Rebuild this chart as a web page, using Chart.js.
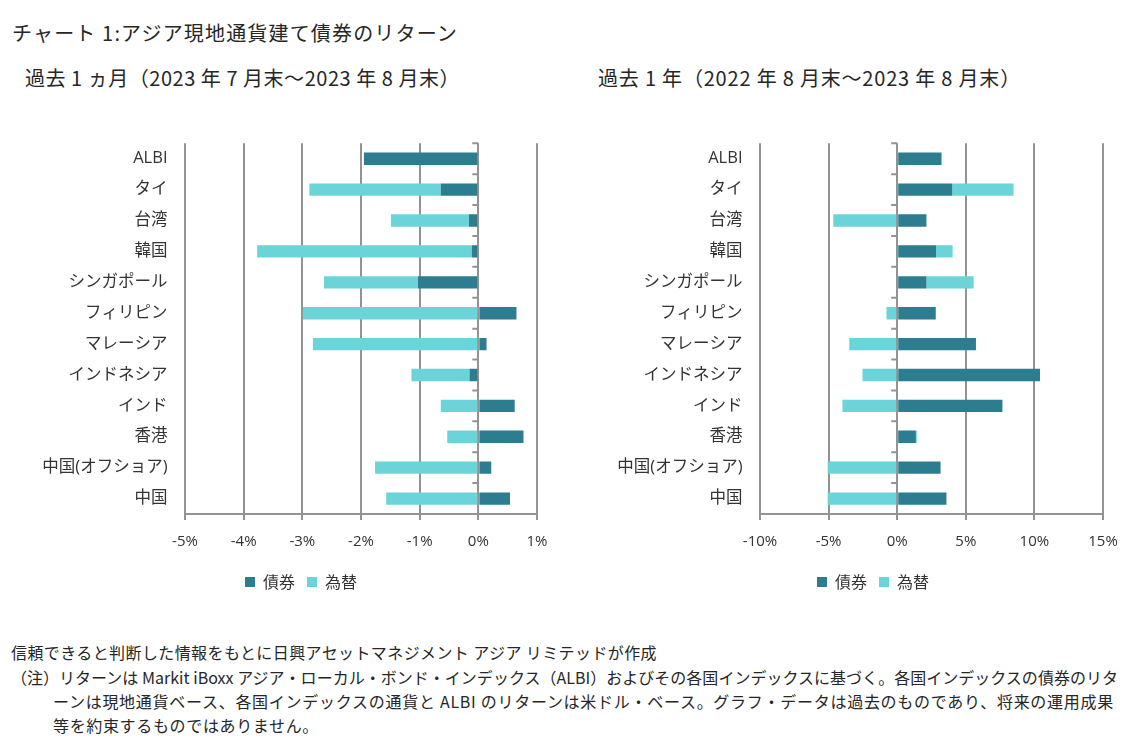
<!DOCTYPE html>
<html><head><meta charset="utf-8">
<script src="https://cdn.jsdelivr.net/npm/chart.js@4.4.0/dist/chart.umd.min.js"></script>
<style>
html,body{margin:0;padding:0;background:#fff;}
body{width:1138px;height:756px;position:relative;overflow:hidden;font-family:"Noto Sans CJK JP","Noto Sans",sans-serif;color:#262626;}
.t{position:absolute;white-space:nowrap;line-height:1;}
#title{left:12px;top:23px;font-size:20px;}
.sub{top:68px;font-size:20px;}
.foot{font-size:16px;left:11px;}
.cv{position:absolute;top:100px;}
</style></head><body>
<div class="t" id="title" data-r="458">チャート 1:アジア現地通貨建て債券のリターン</div>
<div class="t sub" style="left:25px" data-r="460">過去 1 ヵ月（2023 年 7 月末～2023 年 8 月末）</div>
<div class="t sub" style="left:598px" data-r="1021">過去 1 年（2022 年 8 月末～2023 年 8 月末）</div>
<div class="cv" style="left:0px"><canvas id="c1" width="601" height="500"></canvas></div>
<div class="cv" style="left:608px"><canvas id="c2" width="530" height="500"></canvas></div>
<div class="t foot" style="top:644px" data-r="657">信頼できると判断した情報をもとに日興アセットマネジメント アジア リミテッドが作成</div>
<div class="t foot" style="top:669px" data-r="1118">（注）リターンは Markit iBoxx アジア・ローカル・ボンド・インデックス（ALBI）およびその各国インデックスに基づく。各国インデックスの債券のリタ</div>
<div class="t foot" style="top:693px;left:53px" data-r="1114">ーンは現地通貨ベース、各国インデックスの通貨と ALBI のリターンは米ドル・ベース。グラフ・データは過去のものであり、将来の運用成果</div>
<div class="t foot" style="top:717px;left:53px" data-r="319">等を約束するものではありません。</div>
<script>
const categories = ["ALBI","タイ","台湾","韓国","シンガポール","フィリピン","マレーシア","インドネシア","インド","香港","中国(オフショア)","中国"];
const seriesNames = ["債券","為替"];
// 過去1ヵ月 (%)
const bond1M = [-1.95,-0.64,-0.16,-0.11,-1.03,0.65,0.14,-0.15,0.62,0.77,0.22,0.54];
const fx1M   = [0,-2.24,-1.33,-3.66,-1.60,-2.99,-2.82,-0.99,-0.64,-0.53,-1.76,-1.57];
// 過去1年 (%)
const bond1Y = [3.23,4.01,2.13,2.83,2.13,2.81,5.74,10.41,7.67,1.36,3.16,3.59];
const fx1Y   = [0,4.47,-4.66,1.21,3.44,-0.78,-3.49,-2.53,-3.99,0.07,-5.07,-5.07];
const ticks1M = {min:-5,max:1,step:1};
const ticks1Y = {min:-10,max:15,step:5};

// fit text widths to the reference
document.querySelectorAll('[data-r]').forEach(el=>{
  const r = el.getBoundingClientRect();
  const target = parseFloat(el.dataset.r) - r.left;
  const n = el.textContent.length;
  el.style.letterSpacing = ((target - r.width)/n) + 'px';
});

const DARK = '#2b7d8f', LIGHT = '#6bd4d8', GRID = '#939393';
const FONT = '"Open Sans","Noto Sans CJK JP",sans-serif';
const CJK = '"Noto Sans CJK JP","Noto Sans",sans-serif';

const zeroTicks = {
  id:'zeroTicks',
  beforeDatasetsDraw(chart){
    const {ctx, scales:{x,y}} = chart;
    const x0 = x.getPixelForValue(0);
    ctx.save();
    ctx.strokeStyle = GRID; ctx.lineWidth = 2;
    ctx.beginPath();
    for(let i=0;i<=categories.length;i++){
      const yy = y.getPixelForValue(i-0.5);
      ctx.moveTo(x0-6, yy); ctx.lineTo(x0, yy);
    }
    ctx.stroke();
    ctx.restore();
  }
};
const legendShift = {
  id:'legendShift',
  afterLayout(chart, args, opts){
    const lg = chart.legend;
    if(!lg) return;
    const w = lg.right - lg.left;
    lg.left = opts.left; lg.right = opts.left + w;
    if (lg.adjustHitBoxes) lg.adjustHitBoxes();
  }
};

function makeChart(id, bond, fx, tk, yWidth, padRight, legendLeft){
  new Chart(document.getElementById(id), {
    type:'bar',
    data:{labels:categories, datasets:[
      {label:seriesNames[0], data:bond, backgroundColor:DARK, borderWidth:0},
      {label:seriesNames[1], data:fx, backgroundColor:LIGHT, borderWidth:0}
    ]},
    options:{
      indexAxis:'y', responsive:false, animation:false, devicePixelRatio:1,
      barPercentage:0.8, categoryPercentage:0.5,
      layout:{padding:{top:43.3,left:0,right:padRight,bottom:0}},
      scales:{
        x:{stacked:true, min:tk.min, max:tk.max,
           afterFit(s){ s.height = 48; },
           grid:{color:GRID, lineWidth:2, drawTicks:true, tickLength:6, tickColor:GRID},
           border:{display:true, color:GRID, width:2},
           ticks:{stepSize:tk.step, padding:13, color:'#333', font:{family:FONT, size:15},
                  callback:v=>v+'%'}},
        y:{stacked:true,
           afterFit(s){ s.width = yWidth; },
           grid:{display:false, drawTicks:false},
           border:{display:false},
           ticks:{padding:17.5, color:'#333', font:{family:FONT, size:16.5}}}
      },
      plugins:{
        legend:{position:'bottom', align:'start', labels:{boxWidth:10, boxHeight:10, padding:12, color:'#333', font:{family:CJK, size:16}}},
        legendShift:{left:legendLeft},
        tooltip:{enabled:false}
      }
    },
    plugins:[zeroTicks, legendShift]
  });
}
makeChart('c1', bond1M, fx1M, ticks1M, 185, 64, 233);
makeChart('c2', bond1Y, fx1Y, ticks1Y, 152, 35, 197);
</script>
</body></html>
